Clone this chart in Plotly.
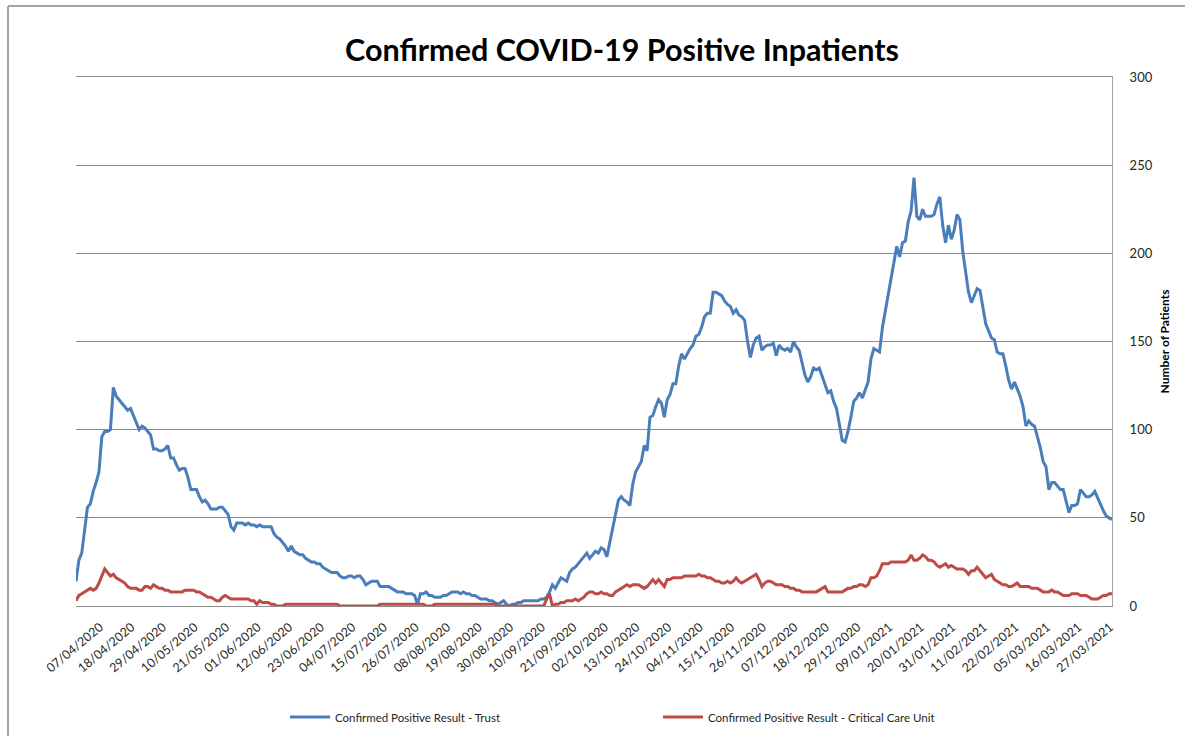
import pandas as pd
import plotly.graph_objects as go

# Daily reporting dates (no returns were filed on two days at the start of August)
first_day = "2020-04-07"
last_day = "2021-04-05"
skipped_days = ["2020-08-01", "2020-08-02"]

# Confirmed positive inpatients, whole trust
trust = [
    14, 26, 30, 42, 56, 58, 65, 70, 76, 96,
    99, 99, 100, 124, 119, 117, 115, 113, 111, 112,
    108, 105, 100, 102, 101, 99, 97, 89, 89, 88,
    88, 89, 91, 84, 84, 80, 77, 78, 78, 73,
    66, 66, 66, 62, 59, 60, 58, 55, 55, 55,
    56, 56, 54, 52, 45, 43, 47, 47, 47, 46,
    47, 46, 46, 45, 46, 45, 45, 45, 45, 41, 39,
    38, 36, 34, 31, 34, 31, 30, 29, 29, 27,
    26, 25, 25, 24, 24, 22, 21, 20, 19, 19,
    19, 17, 16, 16, 17, 17, 16, 17, 17, 15,
    12, 13, 14, 14, 14, 11, 11, 11, 11, 10,
    9, 8, 8, 8, 7, 7, 7, 6, 1, 7,
    7, 8, 6, 6, 5, 5, 5, 6, 6, 7,
    8, 8, 8, 7, 8, 7, 7, 6, 6, 5,
    4, 4, 4, 3, 3, 2, 1, 2, 3, 1, 0,
    1, 1, 2, 2, 3, 3, 3, 3, 3, 3,
    4, 4, 5, 8, 12, 10, 13, 16, 15, 14,
    19, 21, 22, 24, 26, 28, 30, 27, 29, 31,
    30, 33, 32, 28, 36, 45, 52, 60, 62, 60,
    59, 57, 69, 76, 79, 82, 91, 88, 107, 108,
    113, 117, 115, 107, 117, 120, 126, 126, 136, 143,
    140, 143, 146, 148, 153, 154, 158, 164, 166, 166,
    178, 178, 177, 176, 173, 171, 170, 166, 168, 165, 164,
    162, 150, 141, 148, 152, 153, 145, 147, 148, 148,
    149, 142, 148, 146, 145, 146, 144, 150, 147, 145,
    138, 131, 127, 130, 135, 134, 135, 130, 125, 121,
    122, 116, 112, 103, 94, 93, 99, 107, 116, 118,
    121, 118, 122, 127, 140, 146, 145, 144, 158, 167,
    178, 187, 196, 204, 198, 206, 207, 218, 224, 243,
    221, 219, 225, 221, 221, 221, 222, 228, 232, 216, 206,
    216, 208, 213, 222, 219, 201, 188, 178, 172, 176,
    180, 179, 170, 160, 156, 152, 151, 144, 143, 143,
    136, 128, 123, 127, 123, 119, 113, 102, 105, 103,
    102, 96, 90, 82, 79, 66, 70, 70, 68, 66,
    66, 60, 53, 57, 57, 58, 66, 64, 62, 62,
    63, 65, 61, 58, 54, 51, 50, 49,
]

# Confirmed positive patients in the critical care unit
critical_care = [
    3, 6, 7, 8, 9, 10, 9, 10, 13, 17,
    21, 19, 17, 18, 16, 15, 14, 13, 11, 10,
    10, 10, 9, 9, 11, 11, 10, 12, 11, 10,
    10, 9, 9, 8, 8, 8, 8, 8, 9, 9,
    9, 9, 8, 8, 7, 6, 5, 5, 4, 3,
    3, 5, 6, 5, 4, 4, 4, 4, 4, 4,
    4, 3, 3, 1, 3, 2, 2, 2, 1, 1, 0,
    0, 0, 1, 1, 1, 1, 1, 1, 1, 1,
    1, 1, 1, 1, 1, 1, 1, 1, 1, 1,
    1, 0, 0, 0, 0, 0, 0, 0, 0, 0,
    0, 0, 0, 0, 0, 1, 1, 1, 1, 1,
    1, 1, 1, 1, 1, 1, 1, 1, 1, 1,
    1, 0, 0, 0, 1, 1, 1, 1, 1, 1,
    1, 1, 1, 1, 1, 1, 1, 1, 1, 1,
    1, 1, 1, 1, 1, 1, 0, 0, 0, 0, 0,
    0, 0, 0, 0, 0, 0, 0, 0, 0, 0,
    0, 0, 4, 7, 0, 1, 1, 2, 2, 3,
    3, 3, 4, 3, 4, 5, 7, 8, 8, 7,
    7, 8, 7, 7, 6, 6, 8, 9, 10, 11,
    12, 11, 12, 12, 12, 11, 10, 11, 13, 15,
    13, 15, 13, 11, 15, 15, 16, 16, 16, 16,
    17, 17, 17, 17, 17, 18, 17, 17, 16, 16,
    15, 14, 14, 13, 13, 14, 13, 14, 16, 14, 13,
    14, 15, 16, 17, 18, 15, 11, 13, 14, 14,
    13, 12, 12, 12, 11, 11, 10, 10, 9, 9,
    8, 8, 8, 8, 8, 8, 9, 10, 11, 8,
    8, 8, 8, 8, 8, 9, 10, 10, 11, 11,
    12, 12, 11, 12, 16, 16, 17, 20, 24, 24,
    24, 25, 25, 25, 25, 25, 25, 26, 29, 26,
    26, 27, 29, 28, 26, 26, 25, 23, 22, 23, 24,
    22, 23, 22, 21, 21, 21, 20, 18, 20, 20,
    22, 20, 18, 16, 17, 18, 15, 14, 13, 12,
    12, 11, 11, 12, 13, 11, 11, 11, 11, 10,
    10, 10, 9, 8, 8, 8, 9, 8, 8, 7,
    6, 6, 6, 7, 7, 7, 6, 6, 6, 5,
    4, 4, 4, 5, 6, 6, 7, 7,
]

days = pd.date_range(first_day, last_day, freq="D")
days = days[~days.isin(pd.to_datetime(skipped_days))]
dates = [d.strftime("%d/%m/%Y") for d in days]

# Every eleventh reporting day gets a label
label_step = 11
tick_dates = dates[::label_step]

BLUE = "#4a7ebb"
RED = "#be4b48"
FONT = "Lato"

fig = go.Figure()
fig.add_trace(go.Scatter(
    x=dates, y=trust, mode="lines",
    name="Confirmed Positive Result - Trust",
    line=dict(color=BLUE, width=3),
))
fig.add_trace(go.Scatter(
    x=dates, y=critical_care, mode="lines",
    name="Confirmed Positive Result - Critical Care Unit",
    line=dict(color=RED, width=3),
))

fig.update_layout(
    width=1185, height=736,
    margin=dict(l=76, r=73, t=77, b=130, autoexpand=False),
    paper_bgcolor="white", plot_bgcolor="white",
    font=dict(family=FONT, color="#262626"),
    title=dict(
        text="<b>Confirmed COVID-19 Positive Inpatients</b>",
        x=622 / 1185, xanchor="center", xref="container",
        y=1 - 50 / 736, yanchor="middle", yref="container",
        font=dict(family=FONT, size=30.5, color="black"),
    ),
    xaxis=dict(
        type="category",
        categoryorder="array", categoryarray=dates,
        range=[0, len(dates) - 1],
        tickmode="array", tickvals=tick_dates, ticktext=tick_dates,
        tickangle=-40, tickfont=dict(size=12.5, color="#262626"),
        ticklabelshift=24, ticklabelstandoff=8,
        showgrid=False, zeroline=False,
        showline=True, mirror=True, linecolor="#8c8c8c", linewidth=1,
        ticks="", automargin=False,
    ),
    yaxis=dict(
        side="right", range=[0, 300], dtick=50,
        showgrid=True, gridcolor="#8c8c8c", gridwidth=1,
        zeroline=False, showline=True, linecolor="#a6a6a6", linewidth=1,
        ticks="", ticklabelstandoff=14, automargin=False,
        tickfont=dict(size=13, color="#262626"),
        title=dict(text="<b>Number of Patients</b>", standoff=8,
                   font=dict(size=12, color="black")),
    ),
    showlegend=True,
    legend=dict(
        orientation="h", xanchor="left", yanchor="middle",
        x=(285 - 76) / 1036, y=1 - 717 / 736, yref="container",
        font=dict(size=11.5, color="#262626"),
        entrywidthmode="pixels", entrywidth=318,
        itemwidth=40, bgcolor="rgba(0,0,0,0)",
    ),
)

# Outer chart frame (left and top edges)
frame_x = (8 - 76) / 1036
frame_y = (606 - 6) / 529
fig.add_shape(type="line", xref="paper", yref="paper",
              x0=frame_x, x1=frame_x, y0=-0.4, y1=frame_y,
              line=dict(color="#a5a5a5", width=2))
fig.add_shape(type="line", xref="paper", yref="paper",
              x0=frame_x, x1=1.2, y0=frame_y, y1=frame_y,
              line=dict(color="#a5a5a5", width=2))

fig.write_html("out.html")
